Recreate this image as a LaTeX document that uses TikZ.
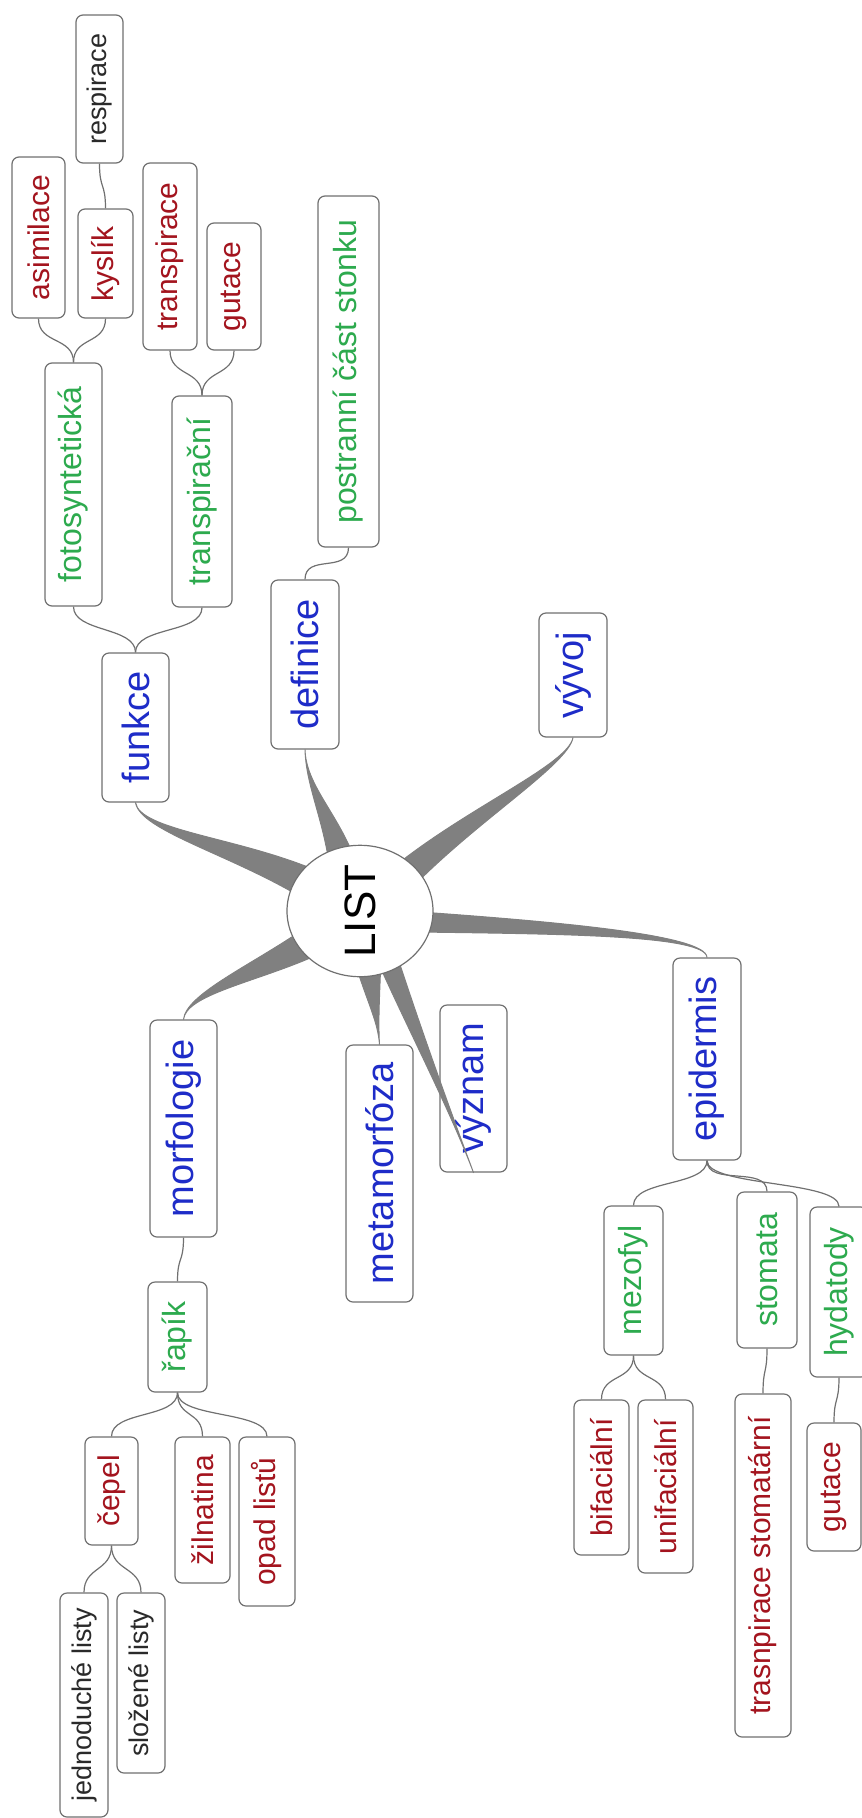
\documentclass[tikz,border=0pt]{standalone}
\usepackage{fontspec}
\setmainfont{Liberation Sans}
\usetikzlibrary{shapes.geometric,calc}
\definecolor{boxline}{HTML}{707070}
\definecolor{branchgrey}{HTML}{808080}
\definecolor{mapblue}{HTML}{1E2CC8}
\definecolor{mapgreen}{HTML}{2DAA4E}
\definecolor{mapred}{HTML}{A3141E}
\definecolor{mapblack}{HTML}{2A2A2A}
\pgfdeclarelayer{foreground}
\pgfsetlayers{main,foreground}
\tikzset{
 box/.style={draw=boxline, line width=1.2pt, fill=white, rounded corners=7pt, rotate=90, inner sep=0pt, align=center},
 lvlone/.style={box, text=mapblue, font=\fontsize{38}{40}\selectfont},
 lvltwo/.style={box, text=mapgreen, font=\fontsize{32}{34}\selectfont},
 lvlthree/.style={box, text=mapred, font=\fontsize{30}{32}\selectfont},
 lvlfour/.style={box, text=mapblack, font=\fontsize{27}{29}\selectfont},
 sz/.style 2 args={minimum height=#1pt, minimum width=#2pt},
 link/.style={draw=boxline, line width=1.2pt},
 branchfill/.style={fill=branchgrey, draw=branchgrey, line width=1pt, line join=round},
 centre/.style={ellipse, draw=boxline, line width=1.2pt, fill=white, rotate=90, inner sep=0pt, font=\fontsize{44}{46}\selectfont, text=black}
}
\newcommand\uplink[2]{\draw[link] (#1.east) .. controls ($(#1.east)+(0,-26)$) and ($(#2.west)+(0,26)$) .. (#2.west);}
\newcommand\downlink[2]{\draw[link] (#1.west) .. controls ($(#1.west)+(0,26)$) and ($(#2.east)+(0,-26)$) .. (#2.east);}
% #1 inner start, #2 control near start, #3 control near end, #4 end, #5 half width
\newcommand\branch[5]{\path[branchfill] (#4) .. controls (#3) and ($(#2)!0.6*#5!-90:(#1)$) .. ($(#1)!#5!90:(#2)$) -- ($(#1)!#5!-90:(#2)$) .. controls ($(#2)!0.6*#5!90:(#1)$) and (#3) .. (#4) -- cycle;}
\begin{document}
\begin{tikzpicture}[x=1pt,y=-1pt]
\useasboundingbox (0,0) rectangle (862,1818);
\begin{pgfonlayer}{foreground}
\node[centre, minimum width=127pt, minimum height=146pt] (LIST) at (360,911) {LIST};
\end{pgfonlayer}
% top part
\node[lvlfour, sz={47}{148}] (respirace) at (99.5,89) {respirace};
\node[lvlthree, sz={53}{161}] (asimilace) at (38.5,237.5) {asimilace};
\node[lvlthree, sz={55}{109}] (kyslik) at (105.5,263.5) {kyslík};
\node[lvlthree, sz={54}{187}] (transpirace) at (170,256.5) {transpirace};
\node[lvlthree, sz={54}{127}] (gutaceA) at (234,286.5) {gutace};
\node[lvltwo, sz={57}{243}] (foto) at (73.5,484.5) {fotosyntetická};
\node[lvltwo, sz={60}{211}] (transpiracni) at (202,501.5) {transpirační};
\node[lvltwo, sz={61}{351}] (postranni) at (348.5,371.5) {postranní část stonku};
\node[lvlone, sz={67}{149}] (funkce) at (135.5,727.5) {funkce};
\node[lvlone, sz={68}{169}] (definice) at (305,664.5) {definice};
\node[lvlone, sz={68}{124}] (vyvoj) at (573,675) {vývoj};
% bottom part
\node[lvlone, sz={67}{217}] (morfologie) at (183.5,1128.5) {morfologie};
\node[lvlone, sz={67}{257}] (metamorfoza) at (379.5,1173.5) {metamorfóza};
\node[lvlone, sz={67}{167}] (vyznam) at (473.5,1088.5) {význam};
\node[lvlone, sz={68}{202}] (epidermis) at (707,1059) {epidermis};
\node[lvltwo, sz={59}{110}] (rapik) at (177.5,1337) {řapík};
\node[lvltwo, sz={59}{149}] (mezofyl) at (633.5,1280.5) {mezofyl};
\node[lvltwo, sz={60}{156}] (stomata) at (767,1270) {stomata};
\node[lvltwo, sz={58}{170}] (hydatody) at (839,1292) {hydatody};
\node[lvlthree, sz={53}{108}] (cepel) at (111.5,1491) {čepel};
\node[lvlthree, sz={55}{146}] (zilnatina) at (202.5,1510) {žilnatina};
\node[lvlthree, sz={56}{169}] (opad) at (267,1521.5) {opad listů};
\node[lvlfour, sz={48}{224}] (jednoduche) at (84,1705) {jednoduché listy};
\node[lvlfour, sz={48}{180}] (slozene) at (141,1683) {složené listy};
\node[lvlthree, sz={55}{155}] (bifacialni) at (601.5,1477.5) {bifaciální};
\node[lvlthree, sz={55}{173}] (unifacialni) at (665.5,1486.5) {unifaciální};
\node[lvlthree, sz={56}{343}] (trasnpirace) at (763,1565.5) {trasnpirace stomatární};
\node[lvlthree, sz={54}{128}] (gutaceB) at (834,1487) {gutace};
% thin links
\uplink{funkce}{foto}
\uplink{funkce}{transpiracni}
\uplink{foto}{asimilace}
\uplink{foto}{kyslik}
\uplink{kyslik}{respirace}
\uplink{transpiracni}{transpirace}
\uplink{transpiracni}{gutaceA}
\uplink{definice}{postranni}
\downlink{morfologie}{rapik}
\downlink{rapik}{cepel}
\downlink{rapik}{zilnatina}
\downlink{rapik}{opad}
\downlink{cepel}{jednoduche}
\downlink{cepel}{slozene}
\downlink{epidermis}{mezofyl}
\downlink{epidermis}{stomata}
\downlink{epidermis}{hydatody}
\downlink{mezofyl}{bifacialni}
\downlink{mezofyl}{unifacialni}
\downlink{stomata}{trasnpirace}
\downlink{hydatody}{gutaceB}
% thick branches from the centre
\coordinate (sF) at ($(LIST.center)+(-55,-29)$);
\coordinate (sD) at ($(LIST.center)+(-18,-49)$);
\coordinate (sV) at ($(LIST.center)+(40,-31)$);
\coordinate (sE) at ($(LIST.center)+(60,11)$);
\coordinate (sM) at ($(LIST.center)+(-55,34)$);
\coordinate (sT) at ($(LIST.center)+(8,49)$);
\coordinate (sY) at ($(LIST.center)+(28,49)$);
\branch{sF}{230,845}{140,830}{funkce.west}{15pt}
\branch{sD}{330,815}{306,785}{definice.west}{13pt}
\branch{sV}{470,815}{568,765}{vyvoj.west}{14pt}
\branch{sE}{560,928}{706,935}{epidermis.east}{10pt}
\branch{sM}{250,975}{186,995}{morfologie.east}{14pt}
\branch{sT}{372,995}{378,1020}{metamorfoza.east}{13pt}
\branch{sY}{415,1030}{450,1110}{vyznam.west}{10pt}
\end{tikzpicture}
\end{document}
